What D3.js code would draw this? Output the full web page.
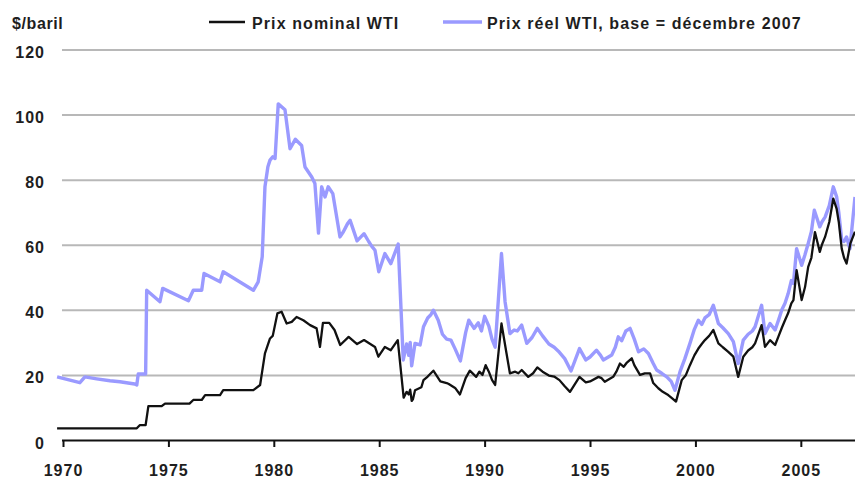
<!DOCTYPE html>
<html>
<head>
<meta charset="utf-8">
<script src="https://cdn.jsdelivr.net/npm/d3@7"></script>
<style>
  body { margin: 0; background: #fff; }
  text { font-family: "Liberation Sans", Arial, sans-serif; font-weight: bold; fill: #1e1e1e; }
</style>
</head>
<body>
<div id="chart"></div>
<script>
// Series: [decimal year, $/baril]
const realSeries = [[1969.72,19.4],[1970.8,17.6],[1971.04,19.4],[1971.6,18.8],[1972.23,18.2],[1972.7,17.9],[1973.4,17.2],[1973.5,16.9],[1973.57,20.3],[1973.92,20.3],
  [1973.97,46.0],[1974.6,42.5],[1974.73,46.6],[1975.95,42.8],[1976.18,46],[1976.58,46],[1976.69,51.2],[1977.45,48.6],[1977.6,51.7],[1979.03,46],
  [1979.26,48.6],[1979.45,56.3],[1979.58,77.8],[1979.72,84],[1979.82,86],[1979.95,87],[1980.06,86.5],[1980.21,103.3],[1980.53,101.5],[1980.77,89.5],
  [1981.02,92.4],[1981.32,90.5],[1981.48,83.9],[1981.8,80.8],[1981.95,78.8],[1982.12,63.6],[1982.27,77.8],[1982.43,74.7],[1982.58,77.8],[1982.8,75.7],
  [1983.14,62.4],[1983.3,64.0],[1983.5,66.5],[1983.62,67.5],[1983.95,61.2],[1984.28,63.4],[1984.5,61.0],[1984.65,59.5],[1984.8,58.3],[1984.98,51.7],
  [1985.27,57.3],[1985.55,54.2],[1985.9,60.2],[1986.14,24.6],[1986.3,29.5],[1986.4,26.0],[1986.47,30],[1986.54,22.8],[1986.7,29.7],[1986.94,29.2],
  [1987.1,34.8],[1987.3,37.5],[1987.45,38.5],[1987.57,39.9],[1987.8,36.8],[1988.0,32.5],[1988.2,31.0],[1988.4,30.7],[1988.6,28.0],[1988.85,24.3],
  [1989.1,33],[1989.25,36.8],[1989.5,34.3],[1989.7,36],[1989.85,33.5],[1990.0,38.0],[1990.2,35],[1990.35,31],[1990.5,28.5],[1990.8,57.3],
  [1990.97,42.5],[1991.2,32.7],[1991.4,33.8],[1991.55,33.5],[1991.76,35.3],[1992.0,29.7],[1992.25,31.5],[1992.5,34.3],[1992.75,32],[1993.05,29.5],
  [1993.3,28.5],[1993.5,27.3],[1993.8,25],[1994.1,21.2],[1994.5,28.1],[1994.8,24.6],[1995.0,25.5],[1995.31,27.6],[1995.5,26],[1995.63,24.6],
  [1996.03,26.1],[1996.2,28.5],[1996.34,31.7],[1996.5,30.5],[1996.7,33.5],[1996.9,34.3],[1997.1,31],[1997.3,27.1],[1997.55,28],[1997.77,26.6],
  [1998.0,23.5],[1998.16,21.5],[1998.4,20.5],[1998.64,19.4],[1998.85,18],[1999.03,15.3],[1999.27,21],[1999.5,25],[1999.74,29.7],[1999.95,34],
  [2000.14,36.8],[2000.3,35.5],[2000.45,37.5],[2000.65,38.5],[2000.85,41.4],[2001.09,35.8],[2001.3,34.5],[2001.56,32.7],[2001.8,30.2],[2002.03,23.5],
  [2002.27,30.7],[2002.5,32.5],[2002.7,33.5],[2002.83,34.8],[2003.14,41.4],[2003.3,32.7],[2003.54,35.8],[2003.78,33.8],[2003.95,37],[2004.1,40],
  [2004.25,42],[2004.4,45],[2004.55,49],[2004.65,48.1],[2004.8,58.8],[2005.04,53.7],[2005.2,57],[2005.35,60.4],[2005.5,64],[2005.64,70.6],
  [2005.9,65.5],[2006.0,67],[2006.15,68.5],[2006.35,72],[2006.54,77.8],[2006.7,74.7],[2006.8,70],[2006.94,61.4],[2007.05,61],[2007.17,62.4],
  [2007.33,58.8],[2007.57,74.7]];

const nominalSeries = [[1969.72,3.6],[1973.5,3.6],[1973.65,4.6],[1973.92,4.6],[1974.05,10.4],[1974.68,10.4],[1974.84,11.2],[1976.0,11.2],[1976.18,12.3],[1976.58,12.3],
  [1976.74,13.8],[1977.45,13.8],[1977.6,15.3],[1979.03,15.3],[1979.35,16.9],[1979.58,26.6],[1979.82,31.2],[1979.95,32],[1980.17,38.9],[1980.37,39.4],
  [1980.61,35.8],[1980.85,36.3],[1981.08,37.8],[1981.4,36.8],[1981.72,35.3],[1982.03,34.3],[1982.19,28.6],[1982.33,36.0],[1982.63,36.0],[1982.88,33.8],
  [1983.15,29.2],[1983.55,31.7],[1983.95,29.5],[1984.28,30.7],[1984.8,28.6],[1984.96,25.6],[1985.27,28.6],[1985.55,27.6],[1985.88,30.7],[1986.16,13.0],
  [1986.3,14.8],[1986.4,14],[1986.47,15.5],[1986.54,12.0],[1986.6,12.5],[1986.7,15.3],[1987.0,16.2],[1987.1,18.4],[1987.3,19.5],[1987.45,20.5],
  [1987.57,21.3],[1987.9,18.0],[1988.2,17.5],[1988.3,17.2],[1988.6,16],[1988.83,14.0],[1989.1,19],[1989.3,21.3],[1989.6,19.4],[1989.75,21],
  [1989.9,20],[1990.05,23],[1990.2,21],[1990.35,18.5],[1990.5,16.9],[1990.8,35.8],[1991.04,26.6],[1991.2,20.5],[1991.45,21],[1991.6,20.5],
  [1991.76,21.5],[1992.07,19.4],[1992.3,20.5],[1992.5,22.3],[1992.75,21],[1993.05,19.8],[1993.3,19.5],[1993.55,18.4],[1993.8,16.5],[1994.05,14.8],
  [1994.5,19.4],[1994.8,17.7],[1995.0,18],[1995.4,19.4],[1995.55,19],[1995.7,17.9],[1996.1,19.4],[1996.25,21],[1996.42,23.5],[1996.6,22.5],
  [1996.75,23.8],[1996.98,25.1],[1997.1,23],[1997.37,20],[1997.6,20.5],[1997.85,20.5],[1998.0,17.5],[1998.24,15.9],[1998.45,14.8],[1998.71,13.8],
  [1998.9,12.8],[1999.08,11.8],[1999.35,18.4],[1999.55,20],[1999.74,23],[1999.95,26],[2000.14,28.1],[2000.3,29.5],[2000.45,30.7],[2000.65,32],
  [2000.85,33.8],[2001.09,29.7],[2001.3,28.5],[2001.56,27.1],[2001.8,25.6],[2002.03,19.4],[2002.27,25.6],[2002.5,27.5],[2002.7,28.5],[2002.83,29.7],
  [2003.14,35.3],[2003.3,28.6],[2003.54,30.7],[2003.78,29.2],[2003.95,32],[2004.1,34.5],[2004.25,36.8],[2004.4,39],[2004.55,42],[2004.65,43],
  [2004.8,52.2],[2005.04,43],[2005.2,47],[2005.35,53.2],[2005.5,56],[2005.67,63.9],[2005.9,57.8],[2006.0,60],[2006.15,62.4],[2006.35,67],
  [2006.54,74.2],[2006.7,71],[2006.8,67],[2006.94,58.8],[2007.05,56],[2007.17,54.2],[2007.35,60.4],[2007.57,64]];

const yTicks = [0, 20, 40, 60, 80, 100, 120];
const xTicks = [1970, 1975, 1980, 1985, 1990, 1995, 2000, 2005];
const seriesNames = ["Prix nominal WTI", "Prix réel WTI, base = décembre 2007"];
const seriesColors = ["#111111", "#9a9aff"];

const width = 855, height = 479;

const svg = d3.select("#chart").append("svg")
    .attr("width", width)
    .attr("height", height);

// Scales
const x = d3.scaleLinear().domain([1970, 2007.57]).range([63, 855]);
const y = d3.scaleLinear().domain([0, 120]).range([440, 49.5]);

// Gridlines + y labels
const yAxis = svg.append("g")
    .attr("transform", "translate(62,0)")
    .call(d3.axisLeft(y).tickValues(yTicks).tickSize(-(width - 62)).tickPadding(17));
yAxis.select(".domain").remove();
yAxis.selectAll("line")
    .attr("stroke", "#b8b8b8")
    .attr("stroke-width", 2)
    .filter(d => d === 0).remove();
yAxis.selectAll("text")
    .attr("dy", "0.5em")
    .style("font-size", "16px")
    .style("letter-spacing", "1px")
    .attr("fill", "#1e1e1e");

// Unit label
svg.append("text")
    .attr("x", 12)
    .attr("y", 29)
    .style("font-size", "16px")
    .style("letter-spacing", "0.6px")
    .text("$/baril");

// Lines
svg.append("clipPath").attr("id", "plot-clip")
  .append("rect").attr("x", 50).attr("y", 40).attr("width", width - 50).attr("height", 402);

const line = d3.line()
    .x(d => x(d[0]))
    .y(d => y(d[1]));

svg.append("path")
    .datum(realSeries)
    .attr("clip-path", "url(#plot-clip)")
    .attr("fill", "none")
    .attr("stroke", seriesColors[1])
    .attr("stroke-width", 3.4)
    .attr("stroke-linejoin", "round")
    .attr("d", line);

svg.append("path")
    .datum(nominalSeries)
    .attr("clip-path", "url(#plot-clip)")
    .attr("fill", "none")
    .attr("stroke", seriesColors[0])
    .attr("stroke-width", 2.3)
    .attr("stroke-linejoin", "round")
    .attr("d", line);

// X axis
const xAxis = svg.append("g")
    .attr("transform", "translate(0,440)")
    .call(d3.axisBottom(x).tickValues(xTicks).tickFormat(d3.format("d")).tickSize(7).tickSizeOuter(0));
xAxis.select(".domain")
    .attr("stroke", "#111")
    .attr("stroke-width", 2.2)
    .attr("d", `M62,0.5H${width}`);
xAxis.selectAll("line")
    .attr("stroke", "#111")
    .attr("stroke-width", 2);
xAxis.selectAll("text")
    .attr("dy", null)
    .attr("y", 36)
    .style("font-size", "16px")
    .style("letter-spacing", "1px")
    .attr("fill", "#1e1e1e");

// Legend
const legendPos = [{ x1: 209, x2: 245, tx: 252, w: 2.5 }, { x1: 443, x2: 482, tx: 487, w: 3.5 }];
seriesNames.forEach((name, i) => {
    const p = legendPos[i];
    svg.append("line")
        .attr("x1", p.x1).attr("x2", p.x2)
        .attr("y1", 22).attr("y2", 22)
        .attr("stroke", seriesColors[i])
        .attr("stroke-width", p.w);
    svg.append("text")
        .attr("x", p.tx)
        .attr("y", 29)
        .style("font-size", "16px")
        .style("letter-spacing", "1.1px")
        .text(name);
});
</script>
</body>
</html>
